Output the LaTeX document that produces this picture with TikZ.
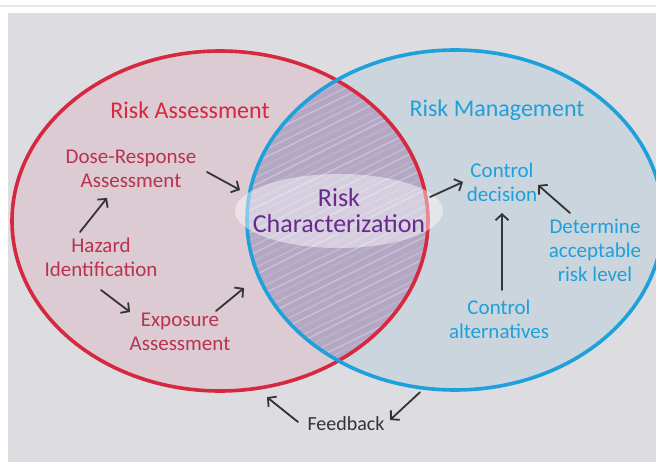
\documentclass[tikz,border=0pt]{standalone}
\usepackage{fontspec}
\setmainfont{Carlito}
\usepackage{xcolor}
\definecolor{panel}{RGB}{221,220,225}
\definecolor{assessred}{RGB}{214,40,62}
\definecolor{assesstext}{RGB}{185,50,80}
\definecolor{assessfill}{RGB}{220,203,211}
\definecolor{manageblue}{RGB}{30,160,218}
\definecolor{managefill}{RGB}{203,213,222}
\definecolor{overlap}{RGB}{179,167,196}
\definecolor{charpurple}{RGB}{105,42,142}
\definecolor{arrowgray}{RGB}{52,52,56}
\usetikzlibrary{shapes.geometric,arrows.meta,positioning}

\begin{document}
\begin{tikzpicture}[
  x=1pt, y=-1pt,
  circ/.style={ellipse, minimum width=416pt, minimum height=340pt, inner sep=0pt},
  rim/.style={line width=3.6pt},
  head/.style={font=\fontsize{24}{26}\selectfont, inner sep=1pt},
  label/.style={font=\fontsize{21}{24}\selectfont, align=center, inner sep=1pt},
  flow/.style={-{Straight Barb[length=6pt,width=13pt]}, line width=1.8pt, color=arrowgray, line cap=round}
]
\useasboundingbox (0,0) rectangle (656,462);
\fill[white] (0,0) rectangle (656,462);
\draw[black!9, line width=2pt] (0,6) -- (656,6);
\fill[panel] (8,13) rectangle (656,462);

\node[circ, fill=assessfill] (assess) at (220,221) {};
\node[circ, fill=managefill] (manage) at (455,220) {};

\begin{scope}
  \clip (assess.center) ellipse [x radius=208, y radius=170];
  \clip (manage.center) ellipse [x radius=208, y radius=170];
  \fill[overlap] (200,40) rectangle (480,400);
  \foreach \i [evaluate=\i as \op using {0.12+0.08*mod(\i,3)},
               evaluate=\i as \dy using {mod(\i,4)}] in {0,...,46}
    \draw[white, opacity=\op, line width=1.6pt, line cap=round]
      (225,140+\i*7.5) -- (455,25+\i*7.5+\dy);
\end{scope}

\draw[rim, assessred] (assess.center) ellipse [x radius=208, y radius=170];
\draw[rim, manageblue] (manage.center) ellipse [x radius=208, y radius=170];

\fill[white, opacity=0.45] (339,211) ellipse [x radius=104, y radius=37];

\node[head, text=assessred] (ra) at (190,110) {Risk Assessment};
\node[head, text=manageblue] (rm) at (497,110) {Risk Management};

\node[label, text=assesstext] (dose) at (131,169) {Dose-Response\\Assessment};
\node[label, text=assesstext] (hazard) at (101,257) {Hazard\\Identification};
\node[label, text=assesstext] (expo) at (180,332) {Exposure\\Assessment};

\node[label, font=\fontsize{26}{26}\selectfont, text=charpurple] (rc) at (339,211) {Risk\\Characterization};

\node[label, text=manageblue] (decision) at (502,182) {Control\\decision};
\node[label, text=manageblue] (accept) at (595,250) {Determine\\acceptable\\risk level};
\node[label, text=manageblue] (altern) at (499,319) {Control\\alternatives};

\node[label, font=\fontsize{20}{24}\selectfont, text=arrowgray] (feedback) at (346,424) {Feedback};

\draw[flow] ([shift={(-21,-25)}]hazard.center) -- ([shift={(-24,29)}]dose.center);
\draw[flow] ([shift={(0,33)}]hazard.center) -- ([shift={(-50,-20)}]expo.center);
\draw[flow] ([shift={(76,3)}]dose.center) -- ([shift={(-99,-21)}]rc.center);
\draw[flow] ([shift={(36,-21)}]expo.center) -- ([shift={(-95,77)}]rc.center);
\draw[flow] ([shift={(91,-14)}]rc.center) -- ([shift={(-39,0)}]decision.center);
\draw[flow] ([shift={(-25,-37)}]accept.center) -- ([shift={(36,3)}]decision.center);
\draw[flow] ([shift={(3,-29)}]altern.center) -- ([shift={(0,31)}]decision.center);
\draw[flow] ([shift={(-35,2)}]manage.south) -- ([shift={(44,-4)}]feedback.center);
\draw[flow] ([shift={(-48,-2)}]feedback.center) -- ([shift={(47,6)}]assess.south);
\end{tikzpicture}
\end{document}
